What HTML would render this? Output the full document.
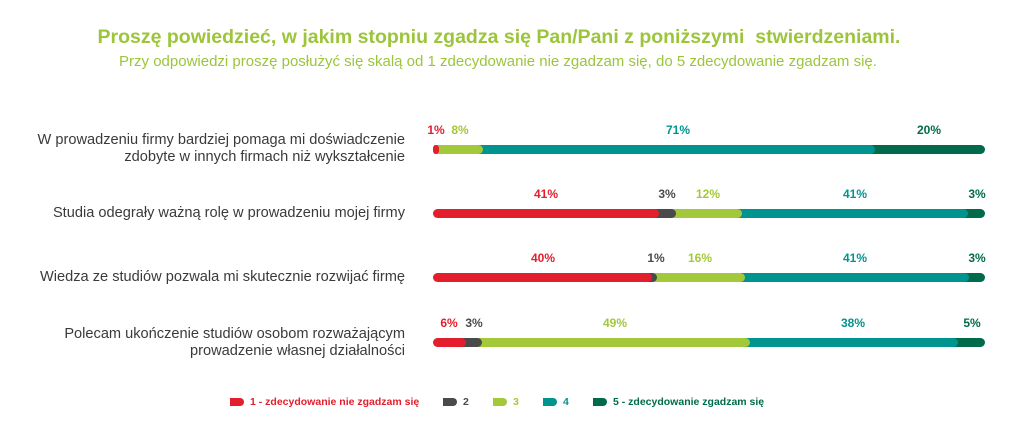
<!DOCTYPE html>
<html><head><meta charset="utf-8"><style>
body{margin:0;width:1024px;height:426px;background:#fff;font-family:"Liberation Sans",sans-serif;position:relative;overflow:hidden}
.a{position:absolute}
.t{left:0;width:1024px;text-align:center;color:#9cc53b}
.lab{right:619px;text-align:right;color:#3a3a3a;font-size:14.6px;line-height:17px;white-space:nowrap}
.seg{position:absolute;height:9px;border-radius:0 5px 5px 0}
.p{position:absolute;font-size:12px;font-weight:bold;transform:translateX(-50%)}
.lg{position:absolute;top:396px;font-size:10.5px;font-weight:bold;display:flex;align-items:center}
.lg i{display:inline-block;width:14px;height:8px;border-radius:0 4px 4px 0;margin-right:6px}
</style></head><body>
<div class="a t" style="top:26px;font-size:19.5px;font-weight:bold;left:-13px">Proszę powiedzieć, w jakim stopniu zgadza się Pan/Pani z poniższymi&nbsp; stwierdzeniami.</div>
<div class="a t" style="top:53px;font-size:15px;left:-14px">Przy odpowiedzi proszę posłużyć się skalą od 1 zdecydowanie nie zgadzam się, do 5 zdecydowanie zgadzam się.</div>

<div class="a lab" style="top:132px">W prowadzeniu firmy bardziej pomaga mi doświadczenie<br>zdobyte w innych firmach niż wykształcenie</div>
<div class="a lab" style="top:205px">Studia odegrały ważną rolę w prowadzeniu mojej firmy</div>
<div class="a lab" style="top:269px">Wiedza ze studiów pozwala mi skutecznie rozwijać firmę</div>
<div class="a lab" style="top:326px">Polecam ukończenie studiów osobom rozważającym<br>prowadzenie własnej działalności</div>

<div id="c"></div>
<div class="lg" style="left:230px;color:#e31e2d"><i style="background:#e31e2d"></i>1 - zdecydowanie nie zgadzam się</div>
<div class="lg" style="left:443px;color:#4a4a4a"><i style="background:#4a4a4a"></i>2</div>
<div class="lg" style="left:493px;color:#a3c83a"><i style="background:#a3c83a"></i>3</div>
<div class="lg" style="left:543px;color:#009490"><i style="background:#009490"></i>4</div>
<div class="lg" style="left:593px;color:#006b4a"><i style="background:#006b4a"></i>5 - zdecydowanie zgadzam się</div>
<script>
var col=["#e31e2d","#4a4a4a","#a3c83a","#009490","#006b4a"];
var rows=[
 {y:145,v:[1,0,8,71,20],l:[[436,0],[460,2],[678,3],[929,4]]},
 {y:209,v:[41,3,12,41,3],l:[[546,0],[667,1],[708,2],[855,3],[977,4]]},
 {y:273,v:[40,1,16,41,3],l:[[543,0],[656,1],[700,2],[855,3],[977,4]]},
 {y:338,v:[6,3,49,38,5],l:[[449,0],[474,1],[615,2],[853,3],[972,4]]}];
var h="",X=433,W=552;
rows.forEach(function(r){
 var tot=r.v.reduce(function(a,b){return a+b},0),c=0;
 r.v.forEach(function(v,i){
  if(!v)return;
  var s=X+W*c/tot;c+=v;var e=X+W*c/tot;
  var st=(i==0?"border-radius:5px;":"");
  h+='<div class="seg" style="'+st+'left:'+(i==0?s:s-5)+'px;width:'+(i==0?e-s:e-s+5)+'px;top:'+r.y+'px;background:'+col[i]+';z-index:'+(10-i)+'"></div>';
 });
 r.l.forEach(function(q){
  h+='<div class="p" style="left:'+q[0]+'px;top:'+(r.y-22)+'px;color:'+col[q[1]]+'">'+r.v[q[1]]+'%</div>';
 });
});
document.getElementById("c").innerHTML=h;
</script>
</body></html>
